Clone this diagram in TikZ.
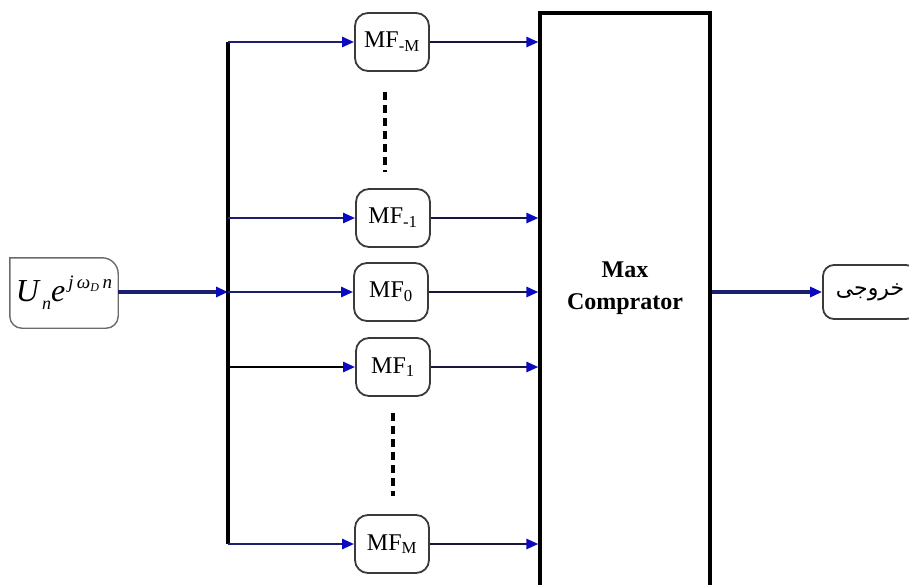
\documentclass[tikz,border=0pt]{standalone}
\usepackage{fontspec}
\setmainfont{Liberation Serif}
\newfontfamily\arabicfont[Script=Arabic]{DejaVu Sans}
\TeXXeTstate=1
\usetikzlibrary{arrows.meta}
\definecolor{navy}{HTML}{1E1E70}
\definecolor{darknavy}{HTML}{16163E}
\definecolor{headblue}{HTML}{0A0AC0}
\definecolor{boxgray}{HTML}{3A3A3A}
\tikzset{
  mfbox/.style={draw=boxgray, line width=1.8pt, rounded corners=13pt, fill=white,
    minimum width=74pt, minimum height=58pt, inner sep=1pt,
    font=\fontsize{24}{26}\selectfont},
  tip/.style={-{Triangle[length=12pt,width=10pt,color=headblue]}},
  feed/.style={navy, line width=2.6pt, tip},
  feedblack/.style={black, line width=2.6pt, tip},
  outline/.style={darknavy, line width=2.6pt, tip},
  thick arrow/.style={navy, line width=3.8pt, tip},
  busline/.style={black, line width=3.2pt},
  dots/.style={black, line width=3.2pt, dash pattern=on 8pt off 5pt},
}
\begin{document}
\begin{tikzpicture}[x=1pt,y=-1pt]
\useasboundingbox (0,0) rectangle (909,584);

% input signal block: square top-left corner, rounded elsewhere
\node[minimum width=108pt, minimum height=70pt, inner sep=0pt] (in) at (64,293)
  {\itshape{\fontsize{32}{34}\selectfont U}\raisebox{-8pt}{\fontsize{18}{20}\selectfont\,n}{\fontsize{32}{34}\selectfont e}\raisebox{13pt}{\fontsize{19}{21}\selectfont\,j\,ω\textsubscript{\fontsize{12}{13}\selectfont D}\,n}};
\draw[boxgray!75, line width=1.4pt]
  (in.north west) -- ([xshift=-16pt]in.north east)
  arc[start angle=90, end angle=0, radius=16pt]
  -- ([yshift=12pt]in.south east)
  arc[start angle=0, end angle=-90, radius=12pt]
  -- ([xshift=12pt]in.south west)
  arc[start angle=270, end angle=180, radius=12pt]
  -- cycle;

% matched filters
\node[mfbox] (mfm)  at (392,42)  {MF\textsubscript{-M}};
\node[mfbox] (mfn1) at (393,218) {MF\textsubscript{-1}};
\node[mfbox] (mf0)  at (391,292) {MF\textsubscript{0}};
\node[mfbox] (mf1)  at (393,367) {MF\textsubscript{1}};
\node[mfbox] (mfM)  at (392,544) {MF\textsubscript{M}};

% comparator block (runs past the lower edge)
\node[draw=black, line width=3.2pt, minimum width=170pt, minimum height=580pt, inner sep=0pt] (cmp) at (625,303) {};
\node[font=\fontsize{24}{32}\selectfont\bfseries, align=center] (cmptxt) at (625,288) {Max\\Comprator};

% output block
\node[draw=boxgray, line width=1.8pt, rounded corners=11pt, minimum width=94pt, minimum height=54pt,
  font=\arabicfont\fontsize{22}{24}\selectfont] (out) at (870,292) {\beginR خروجی\endR};

% distribution bus
\coordinate (btop) at (228,42);
\coordinate (bin)  at (228,292);
\coordinate (bbot) at (228,544);
\draw[busline] (btop) -- (bbot);

% input into bus
\draw[thick arrow] (in.east |- bin) -- (bin);

% branches from bus to filters
\draw[feed] (btop) -- (mfm.west);
\draw[feed] (btop |- mfn1) -- (mfn1.west);
\draw[feed] (bin) -- (mf0.west);
\draw[feedblack] (btop |- mf1) -- (mf1.west);
\draw[feed] (bbot) -- (mfM.west);

% filters into comparator
\foreach \f in {mfm, mfn1, mf0, mf1, mfM}
  \draw[outline] (\f.east) -- (\f.east -| cmp.west);

% comparator output
\draw[thick arrow] (cmp.east |- out.west) -- (out.west);

% omitted filters
\coordinate (d1a) at (385,92);
\coordinate (d1b) at (385,172);
\coordinate (d2a) at (393,413);
\coordinate (d2b) at (393,496);
\draw[dots] (d1a) -- (d1b);
\draw[dots] (d2a) -- (d2b);
\end{tikzpicture}
\end{document}
